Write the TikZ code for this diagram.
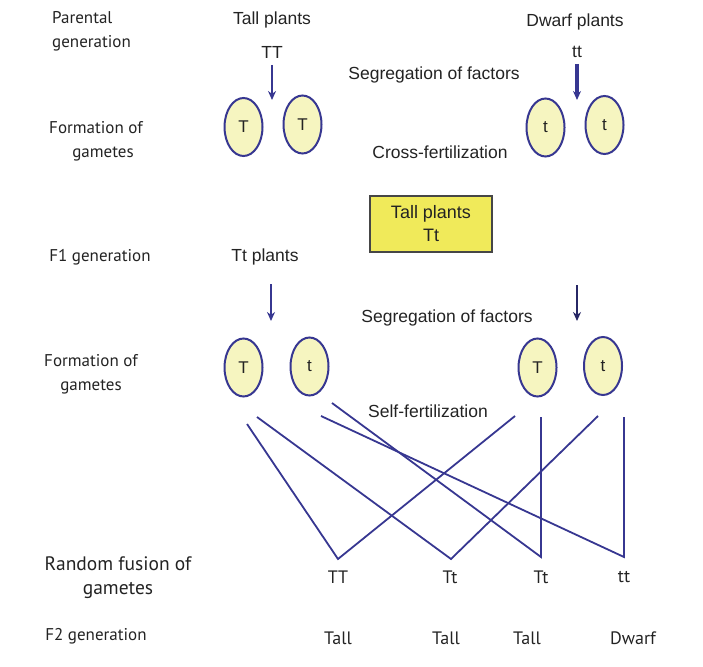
\documentclass[tikz,border=0pt]{standalone}
\usepackage{fontspec}
\setmainfont{Liberation Sans}
\newfontfamily\cond{PT Sans}
\usetikzlibrary{arrows.meta,shapes.geometric}
\definecolor{lineblue}{RGB}{55,55,145}
\definecolor{ellfill}{RGB}{246,245,192}
\definecolor{boxfill}{RGB}{240,234,90}
\definecolor{boxedge}{RGB}{70,70,70}
\definecolor{txt}{RGB}{35,35,35}
\tikzset{
  gam/.style={ellipse,draw=lineblue,fill=ellfill,line width=2pt,minimum width=38pt,minimum height=58pt,inner sep=0pt,text=txt,font=\fontsize{17}{17}\selectfont},
  lbl/.style={text=txt,font=\fontsize{17.5}{20}\selectfont,inner sep=0pt,align=center},
  side/.style={text=txt,font=\cond\fontsize{17}{24}\selectfont,inner sep=0pt,align=center},
  bot/.style={text=txt,font=\cond\fontsize{18}{20}\selectfont,inner sep=0pt},
  cross/.style={draw=lineblue,line width=1.8pt},
  darr/.style={draw=lineblue,line width=2.2pt,-{Stealth[length=9pt,width=8pt]}},
}
\begin{document}
\begin{tikzpicture}[x=1pt,y=-1pt]
\useasboundingbox (0,0) rectangle (703,666);
% left labels
\node[side,align=left,anchor=west] (par) at (52,31) {Parental\\generation};
\node[side] (form1) at (96,141) {Formation of\\\hspace*{14pt}gametes};
\node[side] (f1) at (100,257) {F1 generation};
\node[side] (form2) at (91,374) {Formation of\\gametes};
\node[side,font=\cond\fontsize{19.5}{24}\selectfont] (rand) at (118,578) {Random fusion of\\gametes};
\node[side] (f2) at (96,636) {F2 generation};
% parental
\node[lbl] (tallp) at (272,20) {Tall plants};
\node[lbl] (TT) at (272,52) {TT};
\node[lbl] (dwarfp) at (575,22) {Dwarf plants};
\node[lbl] (tt) at (577,52) {tt};
\node[lbl] (seg1) at (434,75) {Segregation of factors};
\node[lbl] (cross) at (440,152) {Cross-fertilization};
\node[gam] (g1) at (243.5,127) {T};
\node[gam] (g2) at (302.5,124.5) {T};
\node[gam] (g3) at (545.5,127.5) {t};
\node[gam] (g4) at (604.5,125) {t};
\coordinate (a1s) at (272,65);
\coordinate (a1e) at (272,100);
\coordinate (a2s) at (577,64);
\coordinate (a2e) at (577,100);
\draw[darr] (a1s) -- (a1e);
\draw[darr,line width=3.4pt] (a2s) -- (a2e);
% F1
\node[draw=boxedge,line width=2.2pt,fill=boxfill,minimum width=122pt,minimum height=56pt,align=center,text=txt,font=\fontsize{18}{23}\selectfont,inner sep=0pt] (box) at (431,224) {Tall plants\\Tt};
\node[lbl] (ttp) at (265,257) {Tt plants};
\node[lbl] (seg2) at (447,318) {Segregation of factors};
\node[lbl] (self) at (428,411) {Self-fertilization};
\coordinate (a3s) at (271,284);
\coordinate (a3e) at (271,321);
\coordinate (a4s) at (577,285);
\coordinate (a4e) at (577,321);
\draw[darr] (a3s) -- (a3e);
\draw[darr,draw=lineblue!70!black,line width=2.8pt] (a4s) -- (a4e);
\node[gam] (h1) at (243.5,367.5) {T};
\node[gam] (h2) at (309.5,366.5) {t};
\node[gam] (h3) at (537.5,367.5) {T};
\node[gam] (h4) at (603,366) {t};
% crossing lines
\coordinate (v1) at (338,559);
\coordinate (v2) at (451,559);
\coordinate (v3) at (541,557);
\coordinate (v4) at (624,557);
\coordinate (s1) at (247,424);
\coordinate (s2) at (257,417);
\coordinate (s3) at (332,403);
\coordinate (s4) at (321,416);
\coordinate (e1) at (515,416);
\coordinate (e2) at (598,416);
\coordinate (e3) at (541,417);
\coordinate (e4) at (624,417);
\draw[cross] (s1) -- (v1) -- (e1);
\draw[cross] (s2) -- (v2) -- (e2);
\draw[cross] (s3) -- (v3) -- (e3);
\draw[cross] (s4) -- (v4) -- (e4);
% F2 outcomes
\node[bot] (r1) at (338,577) {TT};
\node[bot] (r2) at (450,577) {Tt};
\node[bot] (r3) at (541,577) {Tt};
\node[bot] (r4) at (624,577) {tt};
\node[bot] (p1) at (338,638) {Tall};
\node[bot] (p2) at (446,638) {Tall};
\node[bot] (p3) at (527,638) {Tall};
\node[bot] (p4) at (633,638) {Dwarf};
\end{tikzpicture}
\end{document}
